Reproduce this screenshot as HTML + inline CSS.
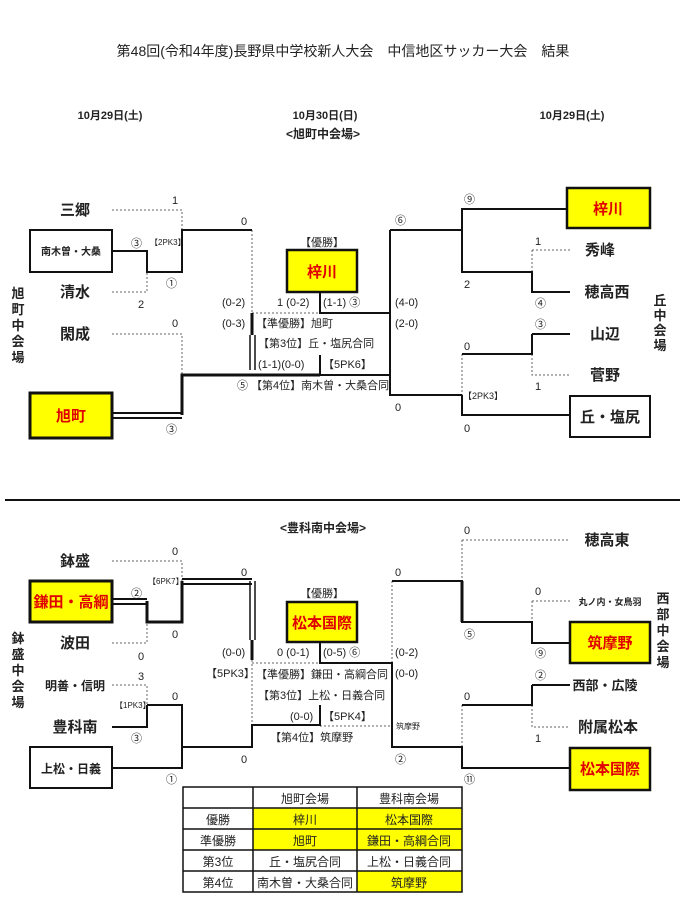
<!DOCTYPE html>
<html><head><meta charset="utf-8"><style>
body{margin:0;background:#fff}
svg{display:block}
text{font-family:"Liberation Sans","Noto Sans CJK JP",sans-serif;fill:#222}
.n{font-size:15px;font-weight:bold}
.s{font-size:10px}
.m{font-size:11px}
.r{fill:#e00000;font-weight:bold;font-size:15px}
</style></head><body>
<svg width="686" height="919" viewBox="0 0 686 919" xmlns="http://www.w3.org/2000/svg">
<g text-anchor="middle">
<text x="343" y="56" font-size="14">第48回(令和4年度)長野県中学校新人大会　中信地区サッカー大会　結果</text>
<text x="110" y="119" font-size="11" font-weight="bold">10月29日(土)</text>
<text x="325" y="119" font-size="11" font-weight="bold">10月30日(日)</text>
<text x="572" y="119" font-size="11" font-weight="bold">10月29日(土)</text>
<text x="323" y="138" font-size="12" font-weight="bold">&lt;旭町中会場&gt;</text>
<text x="323" y="532" font-size="12" font-weight="bold">&lt;豊科南中会場&gt;</text>
<text x="322" y="246" font-size="11">【優勝】</text>
<text x="322" y="597" font-size="11">【優勝】</text>
</g>
<g fill="none" stroke="#111">
<g stroke-dasharray="2,2" stroke-width="1" stroke="#666">
<path d="M112 210H182V230M112 292H147V272M112 334H182V375M252 230V313M112 334H182"/>
<path d="M532 250H570M532 250V292M532 354V375H570M462 354V395"/>
<path d="M252 313H320"/>
<path d="M112 561H182V581M112 643H147V622M112 685H147V705M252 660V725M392 581V663M462 540H570M462 540V581M532 601H570M532 601V622M532 705V727H570M462 705V747M320 726H392"/>
<path d="M252 663H320"/>
</g>
<g stroke-width="2">
<path d="M112 251H147V272H182V230H252"/>
<path d="M182 415V375H252" stroke-width="3"/>
<path d="M252 313V335" stroke-width="3"/>
<path d="M252 375H320" stroke-width="3"/>
<path d="M320 292V313H390"/>
<path d="M320 375H390M390 230V395H462M320 355V375"/>
<path d="M390 230H462V209H567M462 230V272H532V292H570M532 334H570M532 334V354H462M462 395V415H570"/>
<path d="M147 601V622H182V581" stroke-width="3"/>
<path d="M147 705H182V768H112M112 727H147V705M182 747H252V725H320M320 705V726"/>
<path d="M252 640V660" stroke-width="3"/>
<path d="M320 642V663H392V747H462V768H570M392 581H462V622H532V643H570M532 685H570M532 685V705H462"/>
<path d="M462 622V581" stroke-width="3"/>
</g>
<path d="M112 413H182M112 418H182" stroke-width="2"/>
<path d="M250 335V370M255 335V370" stroke-width="1.5"/>
<path d="M112 599H147M112 604H147" stroke-width="2"/>
<path d="M182 579H252M182 584H252" stroke-width="2"/>
<path d="M250 581V640M255 581V640" stroke-width="1.5"/>
<path d="M5 500H680" stroke-width="2"/>
</g>
<rect x="30" y="230" width="82" height="42" fill="#fff" stroke="#111" stroke-width="2"/>
<rect x="30" y="393" width="82" height="45" fill="#ffff00" stroke="#111" stroke-width="3"/>
<rect x="287" y="250" width="70" height="42" fill="#ffff00" stroke="#111" stroke-width="2.5"/>
<rect x="567" y="188" width="83" height="40" fill="#ffff00" stroke="#111" stroke-width="2.5"/>
<rect x="570" y="396" width="80" height="41" fill="#fff" stroke="#111" stroke-width="2"/>
<rect x="30" y="581" width="82" height="41" fill="#ffff00" stroke="#111" stroke-width="3"/>
<rect x="30" y="747" width="82" height="41" fill="#fff" stroke="#111" stroke-width="2"/>
<rect x="287" y="602" width="70" height="40" fill="#ffff00" stroke="#111" stroke-width="2.5"/>
<rect x="570" y="622" width="80" height="41" fill="#ffff00" stroke="#111" stroke-width="2.5"/>
<rect x="570" y="748" width="80" height="42" fill="#ffff00" stroke="#111" stroke-width="2.5"/>
<g text-anchor="middle">
<text class="n" x="75" y="215">三郷</text>
<text x="71" y="255" font-size="10" font-weight="bold">南木曽・大桑</text>
<text class="n" x="75" y="297">清水</text>
<text class="n" x="75" y="339">閑成</text>
<text class="r" x="71" y="421">旭町</text>
<text class="r" x="322" y="277">梓川</text>
<text class="r" x="608" y="214">梓川</text>
<text class="n" x="600" y="255">秀峰</text>
<text class="n" x="607" y="297">穂高西</text>
<text class="n" x="605" y="339">山辺</text>
<text class="n" x="605" y="380">菅野</text>
<text class="n" x="610" y="422">丘・塩尻</text>
<text class="n" x="75" y="566">鉢盛</text>
<text class="r" x="71" y="607" font-size="13">鎌田・高綱</text>
<text class="n" x="75" y="648">波田</text>
<text x="75" y="690" font-size="12" font-weight="bold">明善・信明</text>
<text class="n" x="75" y="732">豊科南</text>
<text x="71" y="773" font-size="12" font-weight="bold">上松・日義</text>
<text class="r" x="322" y="628" font-size="14">松本国際</text>
<text class="n" x="607" y="545">穂高東</text>
<text x="610" y="605" font-size="9" font-weight="bold">丸ノ内・女鳥羽</text>
<text class="r" x="610" y="648">筑摩野</text>
<text x="605" y="690" font-size="13" font-weight="bold">西部・広陵</text>
<text class="n" x="608" y="732">附属松本</text>
<text class="r" x="610" y="774">松本国際</text>
</g>
<g text-anchor="middle" font-size="13" font-weight="bold">
<text x="18" y="298">旭</text><text x="18" y="314">町</text><text x="18" y="330">中</text><text x="18" y="346">会</text><text x="18" y="362">場</text>
<text x="660" y="305">丘</text><text x="660" y="320">中</text><text x="660" y="335">会</text><text x="660" y="350">場</text>
<text x="18" y="643">鉢</text><text x="18" y="659">盛</text><text x="18" y="675">中</text><text x="18" y="691">会</text><text x="18" y="707">場</text>
<text x="663" y="603">西</text><text x="663" y="619">部</text><text x="663" y="635">中</text><text x="663" y="651">会</text><text x="663" y="667">場</text>
</g>
<g class="m">
<text x="172" y="204">1</text><text x="241" y="225">0</text>
<text x="131" y="247">③</text><text x="150" y="245" font-size="8">【2PK3】</text>
<text x="166" y="287">①</text><text x="138" y="308">2</text>
<text x="172" y="327">0</text><text x="166" y="433">③</text>
<text x="222" y="306">(0-2)</text><text x="222" y="327">(0-3)</text>
<text x="277" y="306">1 (0-2)</text><text x="323" y="306">(1-1)  ③</text>
<text x="256" y="327">【準優勝】旭町</text>
<text x="258" y="347">【第3位】丘・塩尻合同</text>
<text x="258" y="368">(1-1)(0-0)</text><text x="323" y="368">【5PK6】</text>
<text x="237" y="389">⑤ 【第4位】南木曽・大桑合同</text>
<text x="395" y="224">⑥</text><text x="395" y="306">(4-0)</text><text x="395" y="327">(2-0)</text>
<text x="395" y="411">0</text>
<text x="464" y="203">⑨</text><text x="464" y="288">2</text>
<text x="535" y="245">1</text><text x="535" y="307">④</text><text x="535" y="328">③</text>
<text x="464" y="350">0</text><text x="535" y="390">1</text>
<text x="463" y="399" font-size="9">【2PK3】</text><text x="464" y="432">0</text>
<text x="172" y="555">0</text><text x="241" y="576">0</text>
<text x="131" y="597">②</text><text x="148" y="584" font-size="8">【6PK7】</text>
<text x="172" y="638">0</text><text x="138" y="660">0</text>
<text x="138" y="680">3</text><text x="115" y="708" font-size="8">【1PK3】</text>
<text x="172" y="700">0</text><text x="131" y="742">③</text>
<text x="166" y="783">①</text><text x="241" y="763">0</text>
<text x="222" y="656">(0-0)</text><text x="206" y="677">【5PK3】</text>
<text x="277" y="656">0 (0-1)</text><text x="323" y="656">(0-5)  ⑥</text>
<text x="256" y="678">【準優勝】鎌田・高綱合同</text>
<text x="258" y="699">【第3位】上松・日義合同</text>
<text x="290" y="720">(0-0)</text><text x="323" y="720">【5PK4】</text>
<text x="270" y="741">【第4位】筑摩野</text>
<text x="395" y="576">0</text><text x="395" y="656">(0-2)</text><text x="395" y="677">(0-0)</text>
<text x="396" y="729" font-size="8">筑摩野</text><text x="395" y="763">②</text>
<text x="464" y="534">0</text><text x="464" y="638">⑤</text>
<text x="535" y="595">0</text><text x="535" y="657">⑨</text><text x="535" y="679">②</text>
<text x="464" y="700">0</text><text x="535" y="742">1</text><text x="464" y="783">⑪</text>
</g>
<g stroke="#111" stroke-width="1">
<rect x="253" y="808" width="104" height="21" fill="#ffff00"/>
<rect x="357" y="808" width="105" height="42" fill="#ffff00"/>
<rect x="253" y="829" width="104" height="21" fill="#ffff00"/>
<rect x="357" y="871" width="105" height="21" fill="#ffff00"/>
<path d="M183 787H462V892H183ZM183 808H462M183 829H462M183 850H462M183 871H462M253 787V892M357 787V892" fill="none" stroke-width="1.5"/>
</g>
<g text-anchor="middle" font-size="12">
<text x="305" y="803">旭町会場</text><text x="409" y="803">豊科南会場</text>
<text x="218" y="824">優勝</text><text x="305" y="824">梓川</text><text x="409" y="824">松本国際</text>
<text x="218" y="845">準優勝</text><text x="305" y="845">旭町</text><text x="409" y="845">鎌田・高綱合同</text>
<text x="218" y="866">第3位</text><text x="305" y="866">丘・塩尻合同</text><text x="409" y="866">上松・日義合同</text>
<text x="218" y="887">第4位</text><text x="305" y="887">南木曽・大桑合同</text><text x="409" y="887">筑摩野</text>
</g>
</svg>
</body></html>
